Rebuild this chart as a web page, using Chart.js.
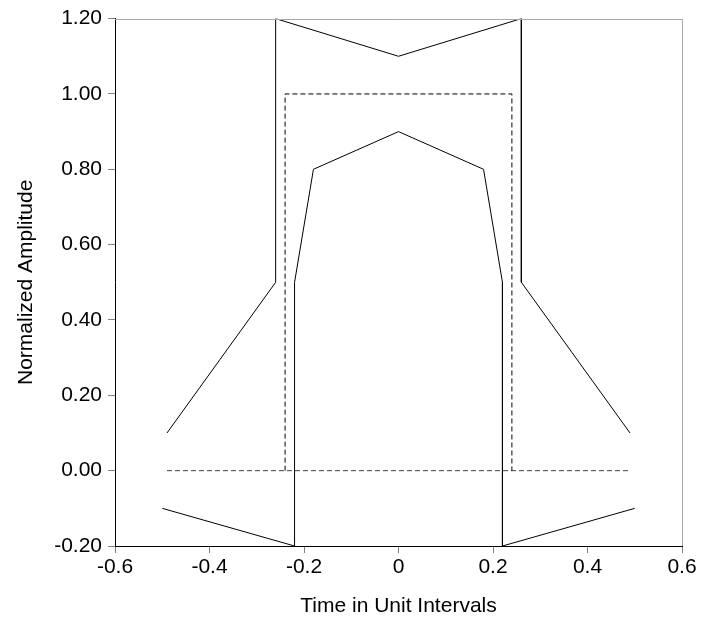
<!DOCTYPE html>
<html>
<head>
<meta charset="utf-8">
<script src="https://cdn.jsdelivr.net/npm/chart.js@4/dist/chart.umd.min.js"></script>
<style>
  html, body { margin: 0; padding: 0; background: #ffffff; }
  #wrap { width: 708px; height: 620px; }
</style>
</head>
<body>
<div id="wrap"><canvas id="c" width="708" height="620"></canvas></div>
<script>
// ---- data ----
const upperMaskX = [-0.49, -0.26, -0.26, 0, 0.26, 0.26, 0.49];
const upperMaskY = [0.10, 0.50, 1.20, 1.10, 1.20, 0.50, 0.10];

const lowerMaskX = [-0.50, -0.22, -0.22, -0.18, 0, 0.18, 0.22, 0.22, 0.50];
const lowerMaskY = [-0.10, -0.20, 0.50, 0.80, 0.90, 0.80, 0.50, -0.20, -0.10];

const nominalX = [-0.24, -0.24, 0.24, 0.24];
const nominalY = [0, 1.00, 1.00, 0];

const baselineX = [-0.49, 0.49];
const baselineY = [0, 0];

const xTicks = [-0.6, -0.4, -0.2, 0, 0.2, 0.4, 0.6];
const xTickLabels = ['-0.6', '-0.4', '-0.2', '0', '0.2', '0.4', '0.6'];
const yTicks = [-0.2, 0, 0.2, 0.4, 0.6, 0.8, 1.0, 1.2];
const yTickLabels = ['-0.20', '0.00', '0.20', '0.40', '0.60', '0.80', '1.00', '1.20'];

const xTitle = 'Time in Unit Intervals';
const yTitle = 'Normalized Amplitude';

function pts(xs, ys) { return xs.map((x, i) => ({ x: x, y: ys[i] })); }

const FONT = "'Liberation Sans', Arial, sans-serif";

const frame = {
  id: 'frame',
  afterDatasetsDraw(chart) {
    const { ctx, chartArea: a } = chart;
    ctx.save();
    ctx.strokeStyle = '#a8a8a8';
    ctx.lineWidth = 1;
    ctx.beginPath();
    ctx.moveTo(a.left, Math.round(a.top) + 0.5);
    ctx.lineTo(Math.round(a.right) + 0.5, Math.round(a.top) + 0.5);
    ctx.lineTo(Math.round(a.right) + 0.5, a.bottom);
    ctx.stroke();
    ctx.restore();
  }
};

new Chart(document.getElementById('c'), {
  type: 'scatter',
  data: {
    datasets: [
      { data: pts(upperMaskX, upperMaskY), showLine: true, borderColor: '#000', borderWidth: 1, pointRadius: 0, fill: false, tension: 0 },
      { data: pts(lowerMaskX, lowerMaskY), showLine: true, borderColor: '#000', borderWidth: 1, pointRadius: 0, fill: false, tension: 0 },
      { data: pts(nominalX, nominalY), showLine: true, borderColor: '#000', borderWidth: 1, borderDash: [5, 3], pointRadius: 0, fill: false, tension: 0 },
      { data: pts(baselineX, baselineY), showLine: true, borderColor: '#444', borderWidth: 1, borderDash: [5, 3], pointRadius: 0, fill: false, tension: 0 }
    ]
  },
  options: {
    responsive: false,
    animation: false,
    devicePixelRatio: 1,
    layout: { padding: { top: 17, right: 26, left: 0, bottom: 0 } },
    plugins: { legend: { display: false }, tooltip: { enabled: false } },
    scales: {
      x: {
        type: 'linear', position: 'bottom', min: -0.6, max: 0.6,
        afterBuildTicks: (s) => { s.ticks = xTicks.map(v => ({ value: v })); },
        afterFit: (s) => { s.height = 74; },
        ticks: {
          autoSkip: false, maxRotation: 0, padding: 2, color: '#000',
          font: { family: FONT, size: 21 },
          callback: (v) => { const i = xTicks.findIndex(t => Math.abs(t - v) < 1e-9); return i >= 0 ? xTickLabels[i] : ''; }
        },
        grid: { display: true, drawOnChartArea: false, drawTicks: true, tickLength: 7, tickColor: '#808080' },
        border: { display: true, color: '#000', width: 1 },
        title: { display: true, text: xTitle, color: '#000', font: { family: FONT, size: 21 }, padding: { top: 0, bottom: 1 } }
      },
      y: {
        type: 'linear', position: 'left', min: -0.2, max: 1.2,
        afterBuildTicks: (s) => { s.ticks = yTicks.map(v => ({ value: v })); },
        afterFit: (s) => { s.width = 115; },
        ticks: {
          autoSkip: false, padding: 6, color: '#000',
          font: { family: FONT, size: 21 },
          callback: (v) => { const i = yTicks.findIndex(t => Math.abs(t - v) < 1e-9); return i >= 0 ? yTickLabels[i] : ''; }
        },
        grid: { display: true, drawOnChartArea: false, drawTicks: true, tickLength: 7, tickColor: '#808080' },
        border: { display: true, color: '#000', width: 1 },
        title: { display: true, text: yTitle, color: '#000', font: { family: FONT, size: 21 }, padding: { top: 14, bottom: 0 } }
      }
    }
  },
  plugins: [frame]
});
</script>
</body>
</html>
